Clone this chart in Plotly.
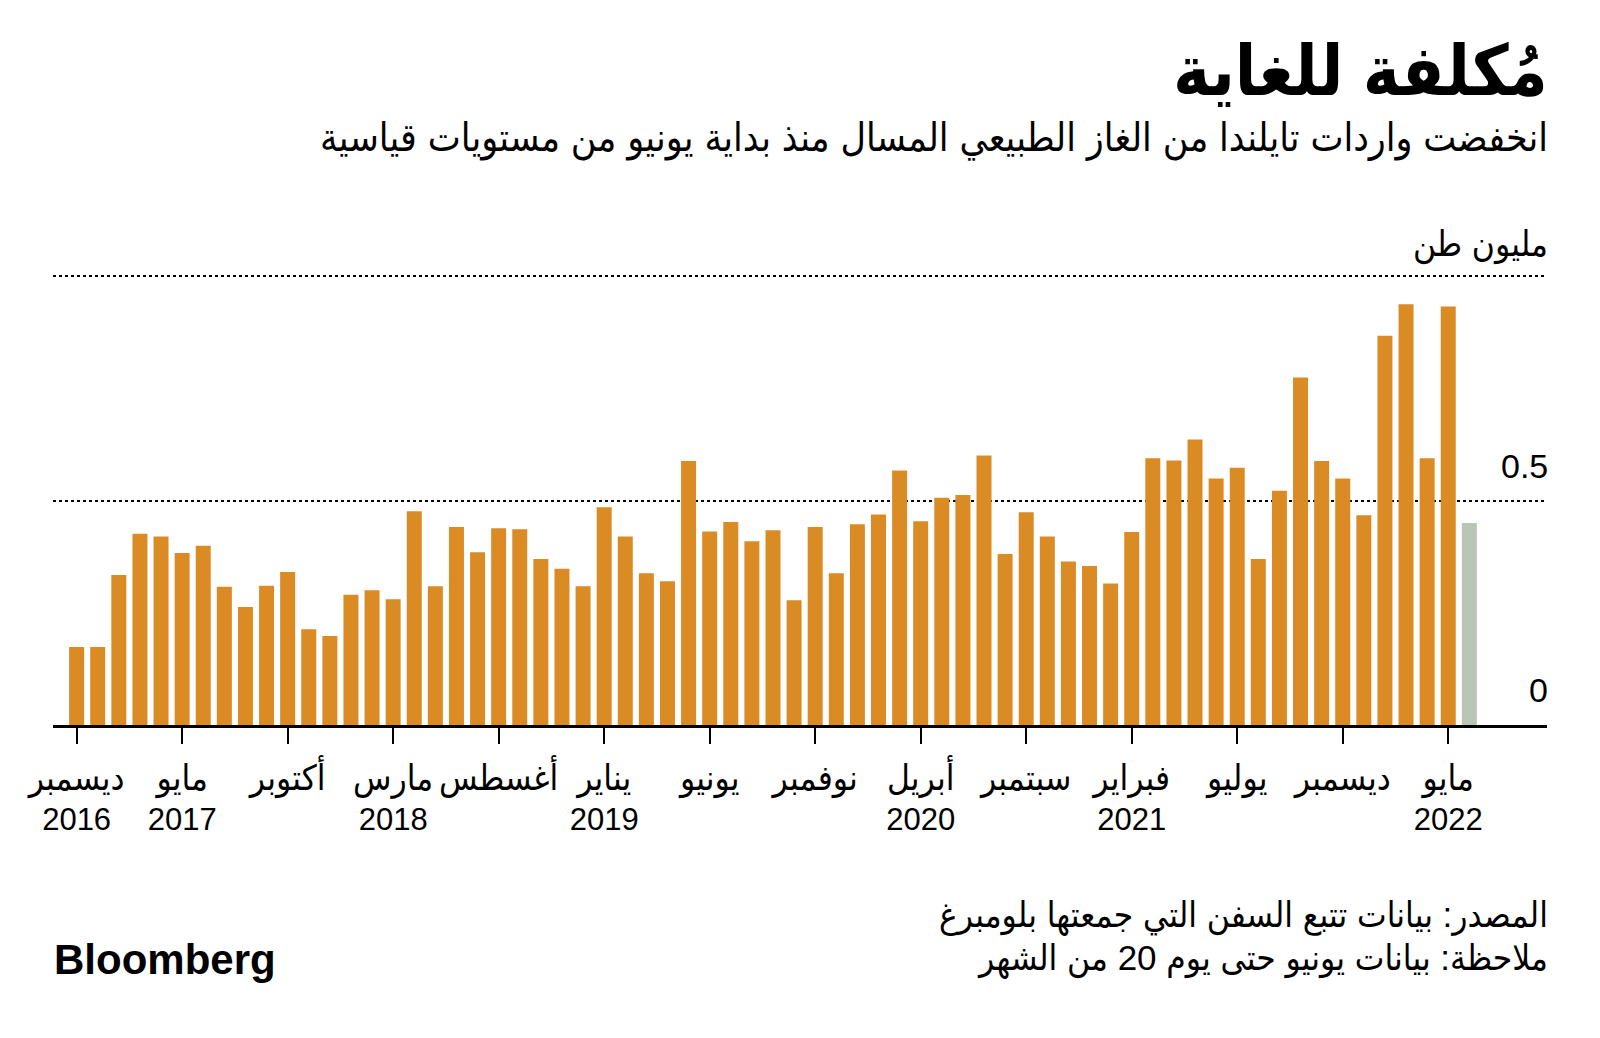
import plotly.graph_objects as go

months = [
    "2016-12",
    "2017-01", "2017-02", "2017-03", "2017-04", "2017-05", "2017-06",
    "2017-07", "2017-08", "2017-09", "2017-10", "2017-11", "2017-12",
    "2018-01", "2018-02", "2018-03", "2018-04", "2018-05", "2018-06",
    "2018-07", "2018-08", "2018-09", "2018-10", "2018-11", "2018-12",
    "2019-01", "2019-02", "2019-03", "2019-04", "2019-05", "2019-06",
    "2019-07", "2019-08", "2019-09", "2019-10", "2019-11", "2019-12",
    "2020-01", "2020-02", "2020-03", "2020-04", "2020-05", "2020-06",
    "2020-07", "2020-08", "2020-09", "2020-10", "2020-11", "2020-12",
    "2021-01", "2021-02", "2021-03", "2021-04", "2021-05", "2021-06",
    "2021-07", "2021-08", "2021-09", "2021-10", "2021-11", "2021-12",
    "2022-01", "2022-02", "2022-03", "2022-04", "2022-05", "2022-06",
]

imports_mt = [
    0.174,
    0.174, 0.334, 0.426, 0.420, 0.383, 0.399,
    0.308, 0.263, 0.310, 0.341, 0.213, 0.198,
    0.290, 0.300, 0.280, 0.476, 0.309, 0.441,
    0.385, 0.438, 0.436, 0.370, 0.348, 0.309,
    0.485, 0.420, 0.338, 0.320, 0.588, 0.431,
    0.452, 0.409, 0.434, 0.278, 0.441, 0.338,
    0.447, 0.469, 0.567, 0.454, 0.506, 0.512,
    0.600, 0.381, 0.474, 0.420, 0.364, 0.354,
    0.315, 0.430, 0.594, 0.589, 0.636, 0.549,
    0.573, 0.370, 0.522, 0.774, 0.588, 0.549,
    0.467, 0.867, 0.937, 0.594, 0.932, 0.450,
]

partial_month = "2022-06"

tick_months = ["2016-12", "2017-05", "2017-10", "2018-03", "2018-08", "2019-01",
               "2019-06", "2019-11", "2020-04", "2020-09", "2021-02", "2021-07",
               "2021-12", "2022-05"]
tick_month_names = ["ديسمبر", "مايو", "أكتوبر", "مارس", "أغسطس", "يناير", "يونيو",
                    "نوفمبر", "أبريل", "سبتمبر", "فبراير", "يوليو", "ديسمبر", "مايو"]
tick_years = ["2016", "2017", "", "2018", "", "2019", "", "", "2020", "", "2021", "", "", "2022"]

y_grid = [0.5, 1.0]
y_labels = ["0", "0.5", "مليون طن"]
y_label_vals = [0, 0.5, 1.0]

title = "مُكلفة للغاية"
subtitle = "انخفضت واردات تايلندا من الغاز الطبيعي المسال منذ بداية يونيو من مستويات قياسية"
source = "المصدر: بيانات تتبع السفن التي جمعتها بلومبرغ"
note = "ملاحظة: بيانات يونيو حتى يوم 20 من الشهر"

ORANGE = "#DA8B24"
GRAY = "#BAC4B7"
AR_FONT = "Liberation Sans, DejaVu Sans Condensed, DejaVu Sans, sans-serif"
NUM_FONT = "Liberation Sans, Arial, sans-serif"

# figure is offset by the page's 8px body margin; work in window pixels
W, H = 1584, 1022
OFF = 8
L, R, T, B = 45, 45, 262, 304.5

colors = [GRAY if m == partial_month else ORANGE for m in months]

tick_text = []
for name, yr in zip(tick_month_names, tick_years):
    t = f'<span style="font-size:35px">{name}</span>'
    if yr:
        t += "<br>" + yr
    tick_text.append(t)

fig = go.Figure()
fig.add_trace(go.Bar(
    x=months, y=imports_mt, marker=dict(color=colors, line=dict(width=0)),
    hoverinfo="x+y",
))

fig.update_layout(
    width=W, height=H,
    margin=dict(l=L, r=R, t=T, b=B, pad=0),
    paper_bgcolor="white", plot_bgcolor="white",
    bargap=0.29, showlegend=False,
    xaxis=dict(
        type="category", range=[-1.12, 69.68],
        tickmode="array", tickvals=tick_months, ticktext=tick_text,
        ticks="outside", ticklen=16, tickwidth=2, tickcolor="black",
        showline=True, linecolor="black", linewidth=2.5,
        showgrid=False, tickangle=0,
        tickfont=dict(family=AR_FONT, size=31, color="black"),
        ticklabelstandoff=9,
    ),
    yaxis=dict(
        range=[0, 1.0134], tickmode="array", tickvals=y_grid,
        showticklabels=False, showgrid=True, gridcolor="black",
        griddash="dot", gridwidth=1.5, zeroline=False, showline=False,
        ticks="",
    ),
)

for val, lab in zip(y_label_vals, y_labels):
    is_num = lab.replace(".", "").isdigit()
    fig.add_annotation(
        x=1.0, xref="paper", y=val, yref="y", xshift=3,
        yshift={0: 35, 0.5: 35, 1.0: 32}[val],
        text=lab, showarrow=False, xanchor="right", yanchor="middle",
        font=dict(family=NUM_FONT if is_num else AR_FONT, size=34 if is_num else 35, color="black"),
    )


def paper_text(text, x_px, y_px, size, family, bold=False, anchor="right"):
    fx, fy = x_px - OFF, y_px - OFF
    fig.add_annotation(
        x=(fx - L) / (W - L - R), xref="paper",
        y=(H - B - fy) / (H - T - B), yref="paper",
        text=f"<b>{text}</b>" if bold else text, showarrow=False,
        xanchor=anchor, yanchor="middle", align=anchor,
        font=dict(family=family, size=size, color="black"),
    )


paper_text(title, 1550, 71, 70, AR_FONT, bold=True)
paper_text(subtitle, 1550, 138, 39, AR_FONT)
paper_text(source, 1550, 916, 35, AR_FONT)
paper_text(note, 1550, 959, 35, AR_FONT)
paper_text("Bloomberg", 52, 960, 42, "Liberation Sans, Arial, sans-serif", bold=True, anchor="left")

fig.write_html("out.html")
